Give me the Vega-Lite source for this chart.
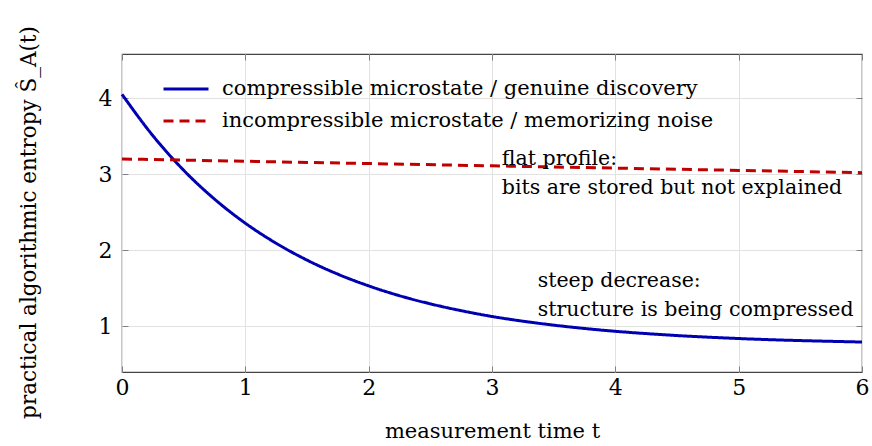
{
  "$schema": "https://vega.github.io/schema/vega-lite/v6.json",
  "width": 740,
  "height": 318,
  "autosize": {"type": "none"},
  "padding": {"left": 122, "top": 54, "right": 10, "bottom": 74},
  "config": {
    "font": "DejaVu Serif",
    "view": {"stroke": "#444444", "strokeWidth": 1.2},
    "axis": {
      "grid": true,
      "gridColor": "#e2e2e2",
      "gridWidth": 1,
      "domain": false,
      "tickColor": "#808080",
      "tickSize": -6,
      "tickWidth": 1,
      "labelFlush": false,
      "labelFont": "DejaVu Serif",
      "labelFontSize": 22,
      "labelFontWeight": "normal",
      "labelColor": "#000000",
      "titleFont": "DejaVu Serif",
      "titleFontSize": 21,
      "titleFontWeight": "normal",
      "titleColor": "#000000"
    }
  },
  "datasets": {
    "curves": [
      {"t": 0, "s": 4.05, "series": "compressible microstate / genuine discovery"},
      {"t": 0.25, "s": 3.507, "series": "compressible microstate / genuine discovery"},
      {"t": 0.5, "s": 3.052, "series": "compressible microstate / genuine discovery"},
      {"t": 0.75, "s": 2.673, "series": "compressible microstate / genuine discovery"},
      {"t": 1.0, "s": 2.356, "series": "compressible microstate / genuine discovery"},
      {"t": 1.25, "s": 2.092, "series": "compressible microstate / genuine discovery"},
      {"t": 1.5, "s": 1.871, "series": "compressible microstate / genuine discovery"},
      {"t": 1.75, "s": 1.686, "series": "compressible microstate / genuine discovery"},
      {"t": 2.0, "s": 1.532, "series": "compressible microstate / genuine discovery"},
      {"t": 2.25, "s": 1.403, "series": "compressible microstate / genuine discovery"},
      {"t": 2.5, "s": 1.296, "series": "compressible microstate / genuine discovery"},
      {"t": 2.75, "s": 1.206, "series": "compressible microstate / genuine discovery"},
      {"t": 3.0, "s": 1.13, "series": "compressible microstate / genuine discovery"},
      {"t": 3.25, "s": 1.068, "series": "compressible microstate / genuine discovery"},
      {"t": 3.5, "s": 1.016, "series": "compressible microstate / genuine discovery"},
      {"t": 3.75, "s": 0.972, "series": "compressible microstate / genuine discovery"},
      {"t": 4.0, "s": 0.935, "series": "compressible microstate / genuine discovery"},
      {"t": 4.25, "s": 0.905, "series": "compressible microstate / genuine discovery"},
      {"t": 4.5, "s": 0.879, "series": "compressible microstate / genuine discovery"},
      {"t": 4.75, "s": 0.858, "series": "compressible microstate / genuine discovery"},
      {"t": 5.0, "s": 0.84, "series": "compressible microstate / genuine discovery"},
      {"t": 5.25, "s": 0.825, "series": "compressible microstate / genuine discovery"},
      {"t": 5.5, "s": 0.813, "series": "compressible microstate / genuine discovery"},
      {"t": 5.75, "s": 0.803, "series": "compressible microstate / genuine discovery"},
      {"t": 6.0, "s": 0.794, "series": "compressible microstate / genuine discovery"},
      {"t": 0, "s": 3.2, "series": "incompressible microstate / memorizing noise"},
      {"t": 3, "s": 3.11, "series": "incompressible microstate / memorizing noise"},
      {"t": 6, "s": 3.02, "series": "incompressible microstate / memorizing noise"}
    ],
    "notes": [
      {"t": 3.08, "s": 3.124, "label": "flat profile:\nbits are stored but not explained"},
      {"t": 3.37, "s": 1.522, "label": "steep decrease:\nstructure is being compressed"}
    ]
  },
  "layer": [
    {
      "data": {"name": "curves"},
      "mark": {"type": "line", "strokeWidth": 3, "interpolate": "monotone"},
      "encoding": {
        "x": {
          "field": "t",
          "type": "quantitative",
          "scale": {"domain": [0, 6], "nice": false, "zero": false},
          "axis": {"values": [0, 1, 2, 3, 4, 5, 6], "title": "measurement time t", "labelPadding": 11, "titlePadding": 22}
        },
        "y": {
          "field": "s",
          "type": "quantitative",
          "scale": {"domain": [0.4, 4.58], "nice": false, "zero": false},
          "axis": {"values": [1, 2, 3, 4], "title": "practical algorithmic entropy Ŝ_A(t)", "titleFontSize": 21.5, "titleY": 168, "labelPadding": 16, "titlePadding": 58}
        },
        "color": {
          "field": "series",
          "type": "nominal",
          "scale": {
            "domain": ["compressible microstate / genuine discovery", "incompressible microstate / memorizing noise"],
            "range": ["#0000B3", "#BF0000"]
          },
          "legend": {
            "orient": "none",
            "legendX": 40,
            "legendY": 20,
            "title": null,
            "symbolType": "stroke",
            "symbolSize": 2025,
            "symbolStrokeWidth": 3,
            "labelFont": "DejaVu Serif",
            "labelFontSize": 21,
            "labelFontWeight": "normal",
            "labelColor": "#000000",
            "labelOffset": 12,
            "labelLimit": 700,
            "clipHeight": 30,
            "rowPadding": 2
          }
        },
        "strokeDash": {
          "field": "series",
          "type": "nominal",
          "scale": {
            "domain": ["compressible microstate / genuine discovery", "incompressible microstate / memorizing noise"],
            "range": [[1, 0], [10, 6]]
          },
          "legend": {
            "orient": "none",
            "legendX": 40,
            "legendY": 20,
            "title": null,
            "symbolType": "stroke",
            "symbolSize": 2025,
            "symbolStrokeWidth": 3,
            "labelFont": "DejaVu Serif",
            "labelFontSize": 21,
            "labelFontWeight": "normal",
            "labelColor": "#000000",
            "labelOffset": 12,
            "labelLimit": 700,
            "clipHeight": 30,
            "rowPadding": 2
          }
        }
      }
    },
    {
      "data": {"name": "notes"},
      "mark": {"type": "text", "align": "left", "baseline": "alphabetic", "lineBreak": "\n", "lineHeight": 29, "fontSize": 20.5, "font": "DejaVu Serif", "fontWeight": "normal", "color": "#000000"},
      "encoding": {
        "x": {"field": "t", "type": "quantitative", "axis": {"orient": "top", "values": [0, 1, 2, 3, 4, 5, 6], "labels": false, "title": null, "grid": false}},
        "y": {"field": "s", "type": "quantitative", "axis": {"orient": "right", "values": [1, 2, 3, 4], "labels": false, "title": null, "grid": false}},
        "text": {"field": "label", "type": "nominal"}
      }
    }
  ],
  "resolve": {"axis": {"x": "independent", "y": "independent"}}
}
